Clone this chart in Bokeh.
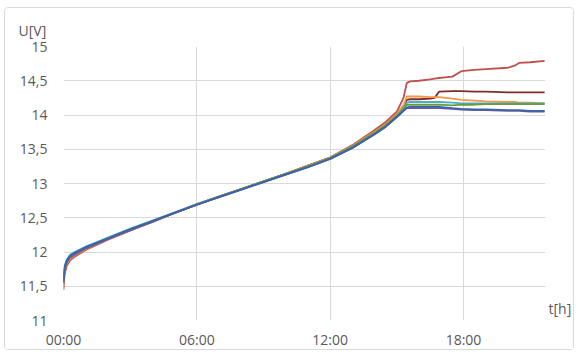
from bokeh.plotting import figure
from bokeh.models import Range1d, FixedTicker, LinearAxis
from bokeh.embed import file_html
from bokeh.resources import INLINE

# time axis in hours
t_hours = [0, 0.05, 0.15, 0.3, 0.5, 1, 2, 3, 4, 5,
           6, 7, 8, 9, 10, 11, 12, 13, 14, 14.5,
           15, 15.3, 15.45, 15.6, 16, 16.5, 16.7, 16.9, 17.5, 17.9,
           18.5, 19, 20, 20.3, 20.5, 21, 21.65]

# cell voltages [V]
u_red = [11.45, 11.68, 11.80, 11.88, 11.93, 12.03, 12.18, 12.31, 12.44, 12.57,
         12.69, 12.81, 12.92, 13.03, 13.14, 13.26, 13.38, 13.56, 13.78, 13.90,
         14.05, 14.25, 14.47, 14.49, 14.50, 14.52, 14.53, 14.54, 14.56, 14.64,
         14.66, 14.67, 14.69, 14.72, 14.76, 14.77, 14.79]
u_darkred = [11.55, 11.74, 11.84, 11.91, 11.96, 12.05, 12.19, 12.32, 12.45, 12.57,
             12.70, 12.81, 12.92, 13.03, 13.14, 13.26, 13.38, 13.55, 13.76, 13.87,
             14.02, 14.13, 14.22, 14.23, 14.23, 14.24, 14.25, 14.34, 14.35, 14.35,
             14.34, 14.34, 14.33, 14.33, 14.33, 14.33, 14.33]
u_orange = [11.55, 11.73, 11.83, 11.90, 11.95, 12.04, 12.19, 12.32, 12.44, 12.57,
            12.69, 12.81, 12.92, 13.03, 13.14, 13.26, 13.38, 13.55, 13.76, 13.87,
            14.02, 14.14, 14.27, 14.27, 14.27, 14.26, 14.26, 14.26, 14.24, 14.22,
            14.21, 14.20, 14.19, 14.19, 14.18, 14.18, 14.17]
u_aqua = [11.62, 11.80, 11.89, 11.96, 12.00, 12.08, 12.21, 12.34, 12.46, 12.58,
          12.70, 12.81, 12.92, 13.03, 13.14, 13.25, 13.37, 13.54, 13.74, 13.85,
          13.99, 14.10, 14.18, 14.19, 14.19, 14.19, 14.19, 14.19, 14.18, 14.17,
          14.17, 14.17, 14.17, 14.17, 14.17, 14.17, 14.17]
u_green = [11.55, 11.76, 11.86, 11.93, 11.97, 12.06, 12.20, 12.33, 12.45, 12.57,
           12.69, 12.81, 12.92, 13.03, 13.14, 13.25, 13.37, 13.54, 13.74, 13.85,
           13.99, 14.09, 14.15, 14.15, 14.15, 14.15, 14.15, 14.15, 14.14, 14.15,
           14.15, 14.16, 14.16, 14.16, 14.16, 14.16, 14.16]
u_purple = [11.56, 11.75, 11.85, 11.92, 11.96, 12.05, 12.19, 12.32, 12.44, 12.57,
            12.69, 12.80, 12.91, 13.02, 13.13, 13.24, 13.36, 13.52, 13.72, 13.83,
            13.97, 14.06, 14.10, 14.10, 14.10, 14.10, 14.10, 14.10, 14.09, 14.08,
            14.07, 14.07, 14.06, 14.06, 14.06, 14.05, 14.05]
u_blue = [11.58, 11.78, 11.88, 11.95, 11.99, 12.07, 12.20, 12.33, 12.45, 12.57,
          12.69, 12.80, 12.91, 13.02, 13.13, 13.24, 13.36, 13.52, 13.72, 13.83,
          13.97, 14.06, 14.11, 14.12, 14.12, 14.12, 14.12, 14.12, 14.10, 14.09,
          14.08, 14.08, 14.07, 14.07, 14.07, 14.06, 14.06]

series = [
    (u_red, "#C0504D"),
    (u_darkred, "#7F2C2A"),
    (u_orange, "#F79646"),
    (u_aqua, "#4BACC6"),
    (u_green, "#6A9A3F"),
    (u_purple, "#7057A0"),
    (u_blue, "#3A64A8"),
]

x_ticks = [0, 6, 12, 18]
x_tick_labels = ["00:00", "06:00", "12:00", "18:00"]
y_ticks = [11, 11.5, 12, 12.5, 13, 13.5, 14, 14.5, 15]
y_tick_labels = ["11", "11,5", "12", "12,5", "13", "13,5", "14", "14,5", "15"]

FONT = "Open Sans"
FONT_SIZE = "14px"
TEXT_COLOR = "#595959"
GRID_COLOR = "#d9d9d9"

p = figure(width=570, height=343, output_backend="svg", toolbar_location=None,
           x_range=Range1d(0, 21.69), y_range=Range1d(11, 15),
           min_border_left=58, min_border_right=30, min_border_top=38, min_border_bottom=29)
p.styles = {"margin-left": "4px", "margin-top": "7px",
            "border": "1px solid #d9d9d9", "border-radius": "4px"}
p.outline_line_color = None
p.background_fill_color = "white"
p.border_fill_color = "white"

for vals, col in series:
    p.line(t_hours, vals, line_color=col, line_width=1.8)

p.xaxis.ticker = FixedTicker(ticks=x_ticks)
p.xaxis.major_label_overrides = {k: v for k, v in zip(x_ticks, x_tick_labels)}
p.yaxis.ticker = FixedTicker(ticks=y_ticks)
p.yaxis.major_label_overrides = {k: v for k, v in zip(y_ticks, y_tick_labels)}

# unit caption of the time axis, sitting just right of the plot area's bottom edge
t_axis = LinearAxis(ticker=FixedTicker(ticks=[11.17]),
                    major_label_overrides={11.17: "t[h]"})
p.add_layout(t_axis, "right")

for ax in (p.xaxis[0], p.yaxis[0], t_axis):
    ax.axis_line_color = None
    ax.major_tick_line_color = None
    ax.minor_tick_line_color = None
    ax.major_tick_out = 0
    ax.major_tick_in = 0
    ax.minor_tick_out = 0
    ax.minor_tick_in = 0
    ax.major_label_text_font = FONT
    ax.major_label_text_font_size = FONT_SIZE
    ax.major_label_text_color = TEXT_COLOR
p.xaxis.major_label_standoff = 9
p.yaxis[0].major_label_standoff = 16
t_axis.major_label_standoff = 3

p.xgrid.grid_line_color = GRID_COLOR
p.ygrid.grid_line_color = GRID_COLOR
p.xgrid.ticker = FixedTicker(ticks=x_ticks)
p.ygrid.ticker = FixedTicker(ticks=y_ticks)

# unit caption of the voltage axis, above the tick labels
p.title.text = "U[V]"
p.title.align = "left"
p.title.offset = -45
p.title.standoff = 14
p.title.text_font = FONT
p.title.text_font_size = FONT_SIZE
p.title.text_font_style = "normal"
p.title.text_color = TEXT_COLOR

open("out.html", "w").write(file_html(p, INLINE))
